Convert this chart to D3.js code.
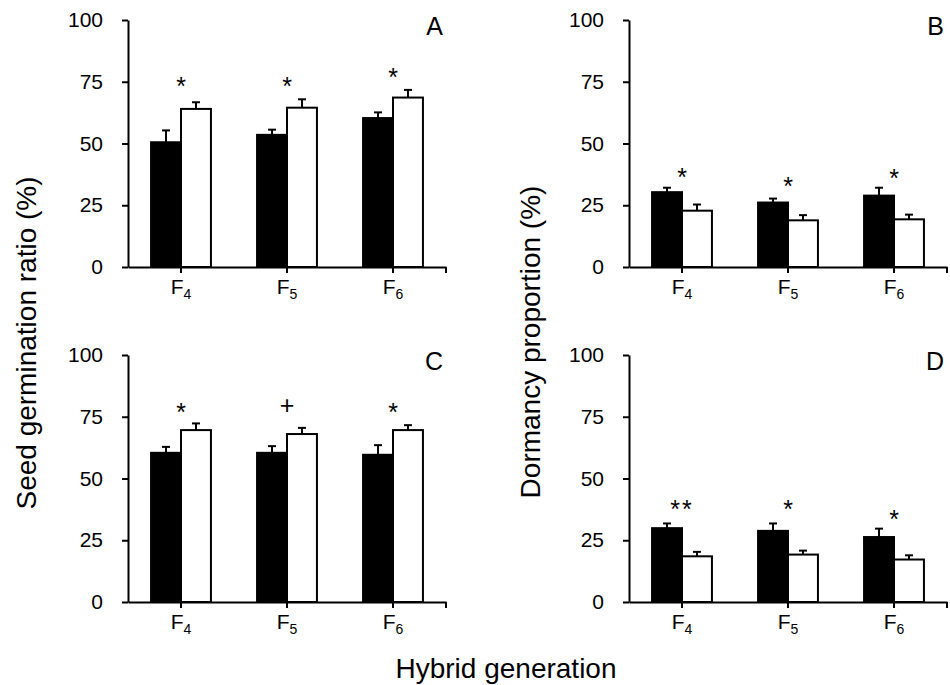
<!DOCTYPE html>
<html lang="en">
<head>
    <meta charset="utf-8">
    <title>Hybrid generation</title>
    <style type="text/css">
        body{ margin:0; background:#fff; }
        svg text{ font-family:"Liberation Sans", Arial, sans-serif; fill:#000; }
        .axis path, .axis line{ stroke:#000; stroke-width:2; }
        .axis text{ font-size:21px; }
    </style>
</head>
<body>
   <svg class="svg_fig" width="950" height="685"></svg>

   <script src="https://d3js.org/d3.v7.min.js"></script>
   <script>
        // 数据
        var generations = ["4", "5", "6"];          // F subscript
        var yTicks = [0, 25, 50, 75, 100];

        var germ1Black = [50.5, 53.5, 60.3], germ1BlackErr = [4.8, 2.1, 2.3];
        var germ1White = [64.0, 64.5, 68.6], germ1WhiteErr = [2.7, 3.4, 3.1];
        var dorm1Black = [30.3, 26.1, 28.9], dorm1BlackErr = [1.8, 1.6, 3.2];
        var dorm1White = [22.8, 18.9, 19.3], dorm1WhiteErr = [2.5, 2.1, 1.9];
        var germ2Black = [60.4, 60.4, 59.6], germ2BlackErr = [2.4, 2.7, 3.9];
        var germ2White = [69.6, 68.0, 69.6], germ2WhiteErr = [2.7, 2.5, 2.0];
        var dorm2Black = [29.9, 28.8, 26.3], dorm2BlackErr = [1.9, 3.0, 3.4];
        var dorm2White = [18.5, 19.2, 17.2], dorm2WhiteErr = [1.8, 1.6, 1.7];

        // significance marks and their heights (axis units)
        var sigA = ["*", "*", "*"],  sigAy = [75.3, 75.3, 78.9];
        var sigB = ["*", "*", "*"],  sigBy = [38.6, 34.9, 38.2];
        var sigC = ["*", "+", "*"],  sigCy = [79.0, 79.7, 79.0];
        var sigD = ["**", "*", "*"], sigDy = [39.5, 39.5, 35.8];

        var panels = [
            {label: "A", left: 128, top: 20, black: germ1Black, blackErr: germ1BlackErr, white: germ1White, whiteErr: germ1WhiteErr, sig: sigA, sigY: sigAy},
            {label: "B", left: 629, top: 20, black: dorm1Black, blackErr: dorm1BlackErr, white: dorm1White, whiteErr: dorm1WhiteErr, sig: sigB, sigY: sigBy},
            {label: "C", left: 128, top: 355, black: germ2Black, blackErr: germ2BlackErr, white: germ2White, whiteErr: germ2WhiteErr, sig: sigC, sigY: sigCy},
            {label: "D", left: 629, top: 355, black: dorm2Black, blackErr: dorm2BlackErr, white: dorm2White, whiteErr: dorm2WhiteErr, sig: sigD, sigY: sigDy}
        ];

        var svg = d3.select('.svg_fig'),
            plot_w = 318,
            plot_h = 247;

        // 比例尺
        var xscale = d3.scaleBand()
                    .domain(generations)
                    .range([0, plot_w]);

        var x1 = d3.scaleBand()
                    .domain(["black", "white"])
                    .range([0, xscale.bandwidth()])
                    .paddingOuter(0.77);

        var yscale = d3.scaleLinear()
                    .domain([0, 100])
                    .range([plot_h, 0]);

        function symbolDy(s){
            return s.indexOf("*") >= 0 ? "0.56em" : "0.36em";
        }

        panels.forEach(function(p){
            var g = svg.append('g')
                        .attr('transform', 'translate(' + p.left + ',' + p.top + ')');

            var rows = generations.map(function(gen, i){
                return [
                    {gen: gen, key: "black", v: p.black[i], e: p.blackErr[i]},
                    {gen: gen, key: "white", v: p.white[i], e: p.whiteErr[i]}
                ];
            });
            var bars = [].concat.apply([], rows);

            // 误差线
            var err = g.selectAll('.err')
                .data(bars)
                .enter()
                .append('g')
                .attr('class', 'err')
                .attr('transform', function(d){
                    return 'translate(' + (xscale(d.gen) + x1(d.key) + x1.bandwidth() / 2) + ',0)';
                });
            err.append('line')
                .attr('y1', function(d){ return yscale(d.v); })
                .attr('y2', function(d){ return yscale(d.v + d.e); })
                .attr('stroke', '#000').attr('stroke-width', 2);
            err.append('line')
                .attr('x1', -4).attr('x2', 4)
                .attr('y1', function(d){ return yscale(d.v + d.e); })
                .attr('y2', function(d){ return yscale(d.v + d.e); })
                .attr('stroke', '#000').attr('stroke-width', 2);

            // 条形
            g.selectAll('.bar')
                .data(bars)
                .enter()
                .append('rect')
                .attr('class', 'bar')
                .attr('x', function(d){ return xscale(d.gen) + x1(d.key); })
                .attr('y', function(d){ return yscale(d.v); })
                .attr('width', x1.bandwidth())
                .attr('height', function(d){ return plot_h - yscale(d.v); })
                .attr('fill', function(d){ return d.key === "black" ? "#000" : "#fff"; })
                .attr('stroke', '#000')
                .attr('stroke-width', 2);

            // 坐标轴
            var yAxis = d3.axisLeft(yscale).tickValues(yTicks).tickSize(6).tickSizeOuter(0).tickPadding(19);
            g.append('g').attr('class', 'axis').call(yAxis);

            var xAxis = d3.axisBottom(xscale).tickSize(6).tickSizeOuter(0).tickPadding(6);
            var xg = g.append('g')
                .attr('class', 'axis')
                .attr('transform', 'translate(0,' + plot_h + ')')
                .call(xAxis);
            xg.append('line')
                .attr('x1', plot_w).attr('x2', plot_w)
                .attr('y1', 0).attr('y2', 6);
            xg.selectAll('.tick text')
                .text(null)
                .attr('font-size', 20)
                .attr('dy', '0.71em')
                .each(function(d){
                    var t = d3.select(this);
                    t.append('tspan').text('F');
                    t.append('tspan').attr('font-size', 14).attr('dy', 5).text(d);
                });

            // 显著性
            g.selectAll('.sig')
                .data(p.sig)
                .enter()
                .append('text')
                .attr('class', 'sig')
                .attr('x', function(d, i){ return xscale(generations[i]) + xscale.bandwidth() / 2; })
                .attr('y', function(d, i){ return yscale(p.sigY[i]); })
                .attr('dy', function(d){ return symbolDy(d); })
                .attr('text-anchor', 'middle')
                .attr('font-size', 25)
                .attr('letter-spacing', function(d){ return d.length > 1 ? 2 : 0; })
                .text(function(d){ return d; });

            // 面板标签
            g.append('text')
                .attr('x', plot_w - 3)
                .attr('y', 15)
                .attr('text-anchor', 'end')
                .attr('font-size', 25)
                .text(p.label);
        });

        // 轴标题
        svg.append('text')
            .attr('transform', 'translate(36,343) rotate(-90)')
            .attr('text-anchor', 'middle')
            .attr('font-size', 28)
            .text('Seed germination ratio (%)');

        svg.append('text')
            .attr('transform', 'translate(540,342) rotate(-90)')
            .attr('text-anchor', 'middle')
            .attr('font-size', 28)
            .text('Dormancy proportion (%)');

        svg.append('text')
            .attr('x', 506)
            .attr('y', 678)
            .attr('text-anchor', 'middle')
            .attr('font-size', 28)
            .text('Hybrid generation');
   </script>
</body>
</html>
